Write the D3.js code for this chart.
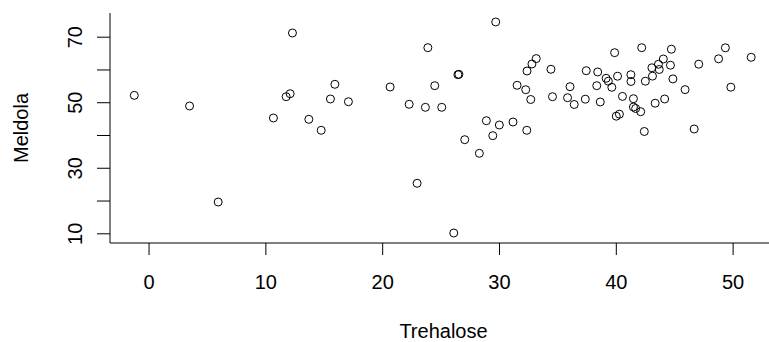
<!DOCTYPE html>
<html><head><meta charset="utf-8">
<script src="https://cdn.jsdelivr.net/npm/d3@7"></script>
<style>body{margin:0;background:#fff}svg{display:block}text{font-family:"Liberation Sans",Arial,sans-serif;fill:#000}</style>
</head><body><svg id="c" width="769" height="342"></svg>
<script>
const trehalose = [-1.22,3.51,5.96,10.69,11.78,12.12,12.32,13.72,14.78,15.57,15.95,17.11,20.68,22.31,23.70,23.91,22.99,24.50,25.10,26.13,26.48,26.57,27.07,28.32,28.92,29.47,29.72,30.03,31.20,31.55,32.29,32.40,32.38,32.72,32.82,33.19,34.45,34.58,36.08,35.87,36.44,37.39,37.47,38.45,38.37,38.67,39.17,39.36,39.66,39.90,40.15,40.57,40.04,40.31,41.29,41.30,41.51,41.51,41.70,42.13,42.22,42.44,42.53,43.14,43.09,43.37,43.65,43.72,44.07,44.18,44.68,44.76,44.89,45.93,46.71,47.10,48.80,49.38,49.85,51.59];
const meldola = [52.1,48.85,19.55,45.19,51.69,52.6,71.13,44.79,41.43,50.99,55.47,50.16,54.65,49.37,48.45,66.64,25.26,55.05,48.45,10.09,58.4,58.52,38.57,34.41,44.36,39.79,74.49,43.05,43.97,55.17,53.82,59.53,41.43,50.83,61.67,63.32,60.05,51.69,54.75,51.38,49.31,50.93,59.62,59.23,55.05,50.07,57.30,56.42,54.56,65.12,57.94,51.78,45.74,46.35,58.40,56.33,51.08,48.54,48.09,47.11,66.64,41.07,56.42,57.97,60.51,49.70,61.58,59.99,63.19,50.99,61.30,66.18,57.12,53.85,41.83,61.61,63.25,66.61,54.59,63.71];
const xTicks = [0,10,20,30,40,50];
const yTicks = [10,20,30,40,50,60,70];
const yTickLabels = ["10","","30","","50","","70"];
const xTitle = "Trehalose", yTitle = "Meldola";

const svg = d3.select("#c");
const L=110,R=777,T=13,B=243;
const x = d3.scaleLinear().domain([-3.3,53.8]).range([L,R]);
const y = d3.scaleLinear().domain([7.04,77.23]).range([B,T]);

// axes
const xa = svg.append("g").attr("transform",`translate(0,${B})`)
  .call(d3.axisBottom(x).tickValues(xTicks).tickSize(12).tickPadding(20).tickFormat(d3.format("d")));
const ya = svg.append("g").attr("transform",`translate(${L},0)`)
  .call(d3.axisLeft(y).tickValues(yTicks).tickSize(13).tickFormat((d,i)=>yTickLabels[i]));
[xa,ya].forEach(g=>{g.select(".domain").remove();g.selectAll("line").attr("stroke","#000").attr("stroke-width",1);g.selectAll("text").style("font-size","20px").attr("fill","#000");});
xa.selectAll("text").attr("dy","0.71em");
ya.selectAll("text").attr("x",null).attr("dy",null).attr("text-anchor","middle")
  .attr("transform",d=>`translate(${-28},${0}) rotate(-90)`);
// box lines (bty="l")
svg.append("line").attr("x1",L).attr("x2",L).attr("y1",T).attr("y2",B).attr("stroke","#000");
svg.append("line").attr("x1",L).attr("x2",769).attr("y1",B).attr("y2",B).attr("stroke","#000");

svg.append("text").attr("x",(L+R)/2).attr("y",338).attr("text-anchor","middle").style("font-size","20px").text(xTitle);
svg.append("text").attr("transform",`translate(28,${(T+B)/2}) rotate(-90)`).attr("text-anchor","middle").style("font-size","20px").text(yTitle);

svg.append("g").selectAll("circle").data(trehalose).join("circle")
  .attr("cx",d=>x(d)).attr("cy",(d,i)=>y(meldola[i])).attr("r",4)
  .attr("fill","none").attr("stroke","#000").attr("stroke-width",1);
</script></body></html>
